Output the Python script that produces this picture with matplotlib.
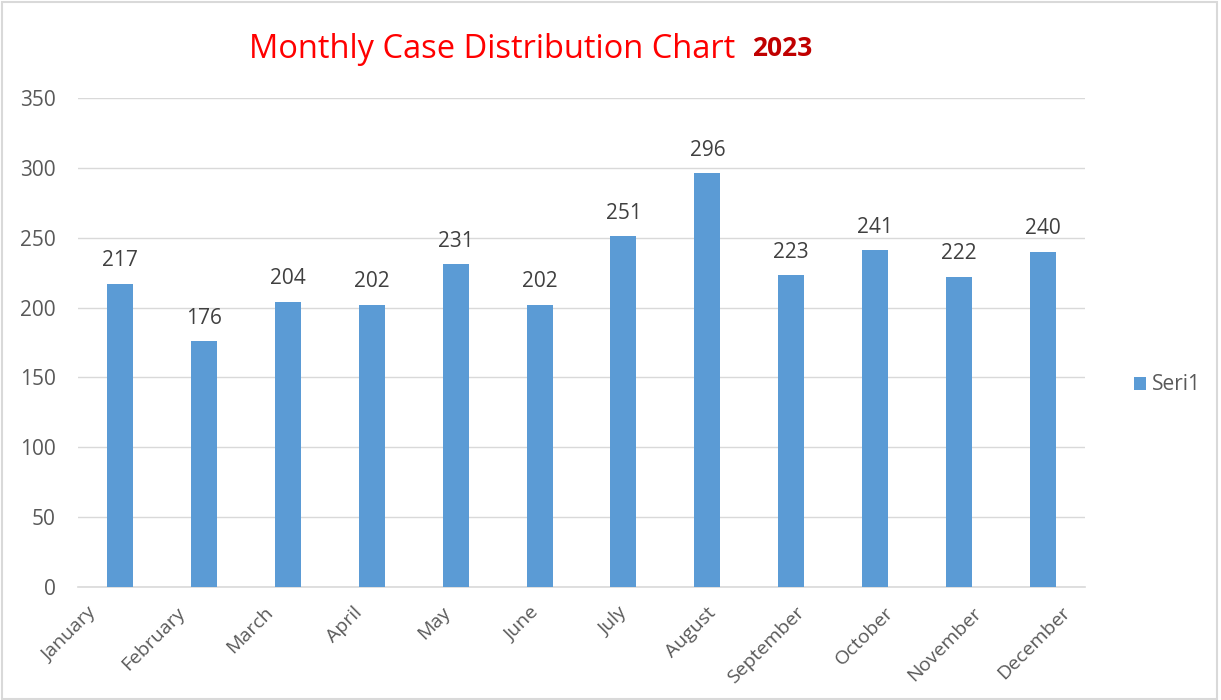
import matplotlib
matplotlib.use("Agg")
import matplotlib.pyplot as plt
import matplotlib.transforms as mtrans
import numpy as np

months = ["January", "February", "March", "April", "May", "June",
          "July", "August", "September", "October", "November", "December"]
cases = [217, 176, 204, 202, 231, 202, 251, 296, 223, 241, 222, 240]
y_ticks = [0, 50, 100, 150, 200, 250, 300, 350]

plt.rcParams['font.family'] = ['Open Sans', 'DejaVu Sans']
txt = '#595959'

fig = plt.figure(figsize=(12.21, 7), dpi=100)
ax = fig.add_axes([0.0639, 0.1614, 0.8247, 0.6986])

x = np.arange(len(months))
bars = ax.bar(x, cases, width=0.31, color='#5B9BD5', label='Seri1', zorder=3)
for xi, v in zip(x, cases):
    ax.text(xi, v + 9, str(v), ha='center', va='bottom', fontsize=15, color='#404040')

ax.set_xlim(-0.5, len(months) - 0.5)
ax.set_ylim(0, 350)
ax.set_yticks(y_ticks)
ax.set_yticklabels([str(t) for t in y_ticks], fontsize=15, color=txt)
ax.set_xticks(x)
ax.set_xticklabels(months, rotation=45, ha='right', rotation_mode='anchor',
                   fontsize=14, color=txt)
ax.tick_params(axis='both', length=0)
ax.tick_params(axis='x', pad=12)
ax.tick_params(axis='y', pad=16)
ax.grid(axis='y', color='#D9D9D9', linewidth=1, zorder=0)
for s in ['top', 'right', 'left']:
    ax.spines[s].set_visible(False)
ax.spines['bottom'].set_color('#D9D9D9')
ax.spines['bottom'].set_linewidth(1.2)

# excel spreads the rotated labels a bit wider than the ticks
n = len(months)
for i, lab in enumerate(ax.get_xticklabels()):
    dx = (-33 + 51 * i / (n - 1)) / 100
    lab.set_transform(lab.get_transform() + mtrans.ScaledTranslation(dx, 0, fig.dpi_scale_trans))

leg = fig.legend(handles=[bars], labels=['Seri1'], loc='center left',
                 bbox_to_anchor=(0.913, 0.45), frameon=False, fontsize=15,
                 handlelength=0.6, handleheight=0.6, handletextpad=0.3)
for t in leg.get_texts():
    t.set_color(txt)

fig.text(0.403, 0.930, "Monthly Case Distribution Chart", ha='center', va='center',
         fontsize=23.5, color='#FF0000')
fig.text(0.641, 0.931, "2023", ha='center', va='center', fontsize=19,
         fontweight='bold', color='#C00000')

fig.patches.append(plt.Rectangle((0.002, 0.002), 0.995, 0.995, transform=fig.transFigure,
                                 fill=False, edgecolor='#D9D9D9', linewidth=1.5))

fig.savefig('out.png', dpi=100)
